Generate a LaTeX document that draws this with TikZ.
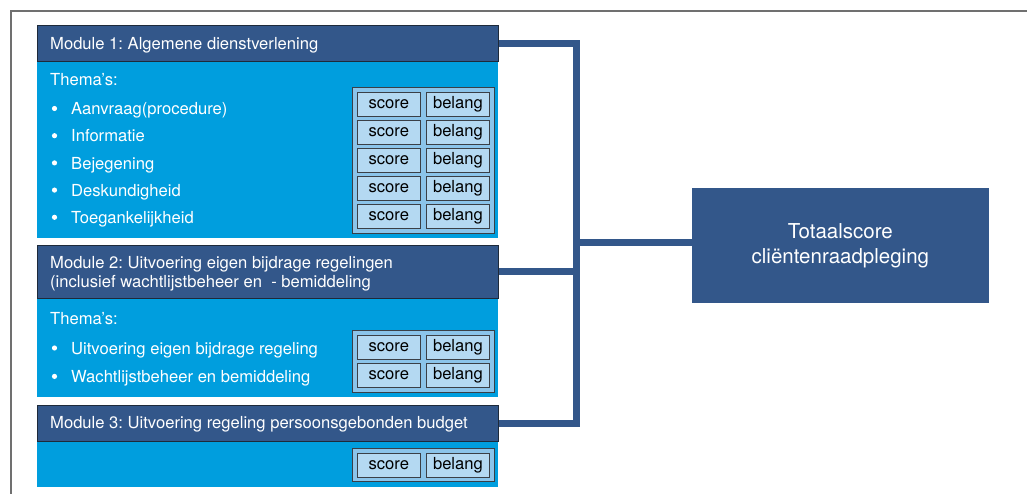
\documentclass[tikz,border=0pt]{standalone}
\usepackage{fontspec}
\setmainfont{TeX Gyre Heros}
\definecolor{hdrblue}{HTML}{33578A}
\definecolor{hdredge}{HTML}{1E2A3A}
\definecolor{bodyblue}{HTML}{009EDE}
\definecolor{panelblue}{HTML}{8BC4EA}
\definecolor{cellblue}{HTML}{B4D9F2}
\definecolor{edgegray}{HTML}{3A3F46}
\definecolor{framegray}{HTML}{707070}
\newcommand\mfont{\fontsize{16.6}{19.4}\selectfont\frenchspacing}
\newcommand\tfont{\fontsize{20.5}{25.5}\selectfont}
\begin{document}
\begin{tikzpicture}[x=1pt,y=-1pt,
 hdr/.style={fill=hdrblue,draw=hdredge,line width=0.9pt,anchor=north west,minimum width=461pt,inner sep=0},
 body/.style={fill=bodyblue,anchor=north west,minimum width=461pt,inner sep=0},
 panel/.style={fill=panelblue,draw=edgegray,line width=0.9pt,anchor=north west,minimum width=142pt,inner sep=0},
 cell/.style={fill=cellblue,draw=edgegray,line width=0.9pt,anchor=north west,minimum height=24pt,inner sep=0,text height=11.5pt,text depth=3.5pt,font=\mfont,text=black},
 scorebox/.style={cell,minimum width=62.7pt},
 belangbox/.style={cell,minimum width=63pt},
 txt/.style={anchor=base west,inner sep=0,text=white,font=\mfont},
 bul/.style={circle,fill=white,minimum size=5.2pt,inner sep=0},
 conn/.style={draw=hdrblue,line width=7pt,line join=miter}]
\useasboundingbox (0,0) rectangle (1027,494);
\fill[white] (0,0) rectangle (1027,494);
\draw[framegray,line width=1.3pt] (11,494) -- (11,11) -- (1027,11);

% bodies
\node[body,minimum height=177pt] (m1body) at (37,61) {};
\node[body,minimum height=99pt] (m2body) at (37,298) {};
\node[body,minimum height=46pt] (m3body) at (37,441) {};
% headers
\node[hdr,minimum height=36pt] (m1h) at (37,25) {};
\node[hdr,minimum height=53pt] (m2h) at (37,245) {};
\node[hdr,minimum height=36pt] (m3h) at (37,405) {};

% total
\node[fill=hdrblue,anchor=north west,minimum width=296.3pt,minimum height=114.4pt,inner sep=0,text=white,font=\tfont,align=center] (tot) at (692,188.3) {Totaalscore\\cliëntenraadpleging};

% connectors
\coordinate (j) at (576,243);
\draw[conn] (m1h.east) -| (j);
\draw[conn] (m2h.east) -| (j);
\draw[conn] (m3h.east) -| (j);
\draw[conn] (j) -- (j -| tot.west);

% titles
\node[txt] (m1t) at (50,49.3) {Module 1: Algemene dienstverlening};
\node[txt] (m2t) at (50,268.3) {Module 2: Uitvoering eigen bijdrage regelingen};
\node[txt] (m2t2) at (50,287.7) {(inclusief wachtlijstbeheer en \ - bemiddeling};
\node[txt] (m3t) at (50,428.3) {Module 3: Uitvoering regeling persoonsgebonden budget};

% themas
\node[txt] (m1th) at (50,86) {Thema’s:};
\foreach \t [count=\i] in {Aanvraag(procedure),Informatie,Bejegening,Deskundigheid,Toegankelijkheid}{
  \node[bul] (m1bul\i) at (54.5,{108.5+27.2*(\i-1)}) {};
  \node[txt] (m1it\i) at (71,{114.8+27.2*(\i-1)}) {\t};
}
\node[txt] (m2th) at (50,324) {Thema’s:};
\node[bul] (m2bul1) at (54.5,348) {};
\node[txt] (m2it1) at (71,354.3) {Uitvoering eigen bijdrage regeling};
\node[bul] (m2bul2) at (54.5,376.4) {};
\node[txt] (m2it2) at (71,382.7) {Wachtlijstbeheer en bemiddeling};

% panels
\node[panel,minimum height=146pt] (p1) at (352,87) {};
\foreach \i in {1,...,5}{
  \node[scorebox] (s1\i) at (357,{91.7+28.1*(\i-1)}) {score};
  \node[belangbox] (b1\i) at (426,{91.7+28.1*(\i-1)}) {belang};
}
\node[panel,minimum height=62.3pt] (p2) at (352,330) {};
\node[scorebox] (s21) at (357,335) {score};
\node[belangbox] (b21) at (426,335) {belang};
\node[scorebox] (s22) at (357,363.3) {score};
\node[belangbox] (b22) at (426,363.3) {belang};
\node[panel,minimum height=33.3pt] (p3) at (352,448) {};
\node[scorebox] (s31) at (357,452.7) {score};
\node[belangbox] (b31) at (426,452.7) {belang};
\end{tikzpicture}
\end{document}
